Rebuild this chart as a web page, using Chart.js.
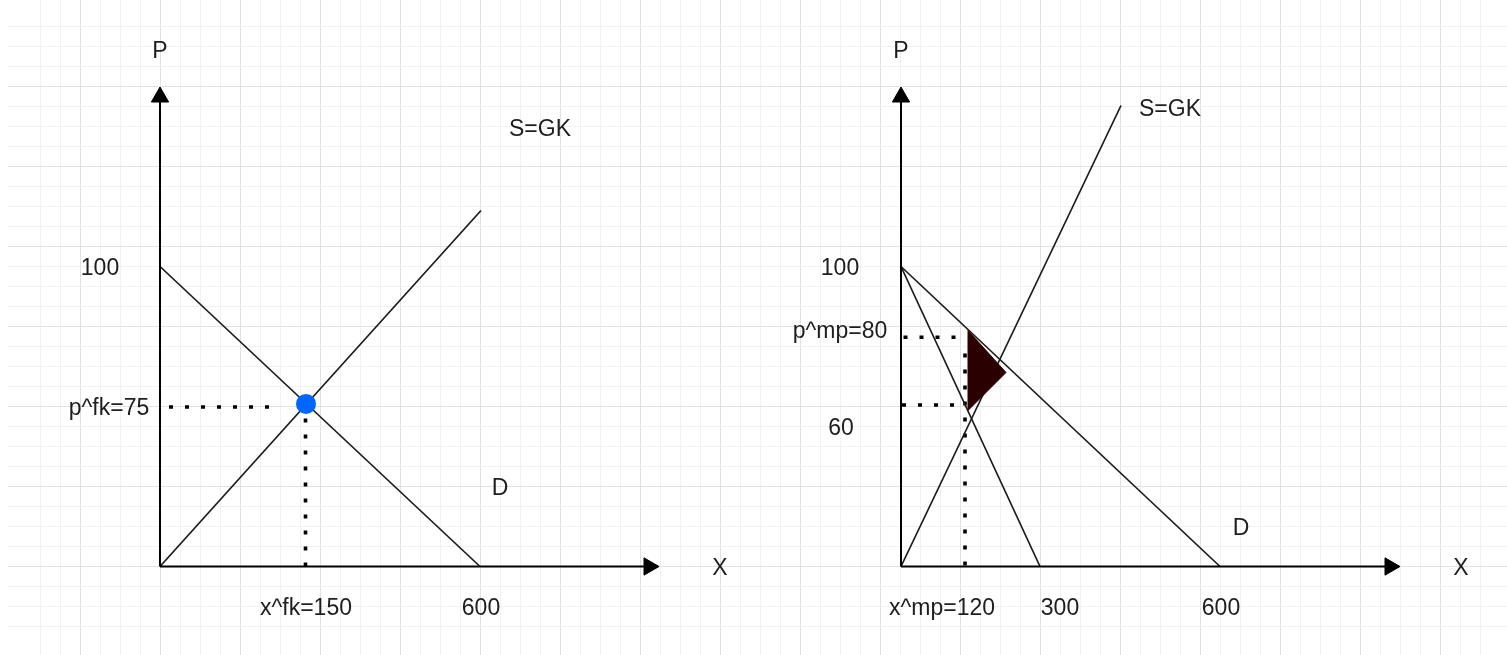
<!DOCTYPE html>
<html>
<head>
<meta charset="utf-8">
<title>Gleichgewicht und Monopol</title>
<script src="https://cdn.jsdelivr.net/npm/chart.js@4.4.1/dist/chart.umd.min.js"></script>
<style>
  html, body { margin: 0; padding: 0; background: #fff; }
  #wrap { width: 1507px; height: 655px; }
</style>
</head>
<body>
<div id="wrap"><canvas id="sketch" width="1507" height="655"></canvas></div>
<script>
// DATA - sketch units, 1 = one grid cell, origin where a panel's axes meet
// (the drawing is a sketch, the economic numbers only live in the labels)

// left panel: free competition
const demandLeft = [[0, 15], [16, 0]];
const supplyLeft = [[0, 0], [16.05, 17.8]];
const equilibrium = [7.3, 8.13];
const guideLeftH = [[0.45, 7.975], [5.6, 7.975]];
const guideLeftV = [[7.275, 7.4], [7.275, 0]];

// right panel: monopoly
const demandRight = [[0, 15], [15.95, 0]];
const revenueRight = [[0, 15], [6.95, 0]];
const supplyRight = [[0, 0], [11, 23.05]];
const lossTriangle = [[3.35, 11.8], [5.25, 9.7], [3.35, 7.8], [3.35, 11.8]];
const guideRightTop = [[0.125, 11.46], [2.85, 11.46]];
const guideRightLow = [[0.05, 8.075], [2.8, 8.075]];
const guideRightV = [[3.2, 10.65], [3.2, 0]];

// axes (both panels the same size)
const axisEnd = [24.45, 23.475];

// labels: text, x, y
const leftLabels = [
  ['P', 0, 25.825], ['S=GK', 19, 21.925], ['100', -3, 14.975],
  ['p^fk=75', -2.55, 7.975], ['x^fk=150', 7.3, -2.025], ['600', 16.05, -2.025],
  ['D', 17, 3.975], ['X', 28, 0]
];
const rightLabels = [
  ['P', 0, 25.825], ['S=GK', 13.45, 22.925], ['100', -3.05, 14.975],
  ['p^mp=80', -3.05, 11.825], ['60', -3, 6.975], ['x^mp=120', 2.05, -2.025],
  ['300', 7.95, -2.025], ['600', 16, -2.025], ['D', 17, 1.975], ['X', 28, 0]
];

// HELPERS
const pts = arr => arr.map(([x, y]) => ({ x, y }));

function line(data, axis, extra) {
  return Object.assign({
    data: pts(data), xAxisID: axis, yAxisID: 'y', showLine: true,
    pointRadius: 0, borderColor: '#1a1a1a', borderWidth: 1.7, fill: false
  }, extra || {});
}

function dotted(data, axis) {
  return line(data, axis, { borderColor: '#000', borderWidth: 3.6, borderDash: [4, 12] });
}

function axes(axis) {
  return [
    line([[0, 0], [0, axisEnd[1]]], axis, { borderColor: '#000', borderWidth: 2 }),
    line([[0, 0], [axisEnd[0], 0]], axis, { borderColor: '#000', borderWidth: 2 })
  ];
}

function arrows(axis) {
  return [
    { data: pts([[0, axisEnd[1]]]), xAxisID: axis, yAxisID: 'y', pointStyle: 'triangle',
      pointRadius: 10, pointRotation: 0, backgroundColor: '#000', borderColor: '#000', borderWidth: 1 },
    { data: pts([[axisEnd[0], 0]]), xAxisID: axis, yAxisID: 'y', pointStyle: 'triangle',
      pointRadius: 10, pointRotation: 90, backgroundColor: '#000', borderColor: '#000', borderWidth: 1 }
  ];
}

// GRID like the drawing paper
const gridColor = c => {
  const v = c.tick && c.tick.value;
  if (!Number.isInteger(v)) return 'rgba(0,0,0,0)';
  return v % 4 === 0 ? '#e1e1e1' : '#f1f1f1';
};

// LABELS
const labelPlugin = {
  id: 'sketchLabels',
  afterDatasetsDraw(chart) {
    const ctx = chart.ctx;
    const ys = chart.scales.y;
    ctx.save();
    ctx.font = '23px "Liberation Sans", Arial, sans-serif';
    ctx.fillStyle = '#1e1e1e';
    ctx.textAlign = 'center';
    ctx.textBaseline = 'middle';
    [['xa', leftLabels], ['xb', rightLabels]].forEach(([id, list]) => {
      const xs = chart.scales[id];
      list.forEach(([t, x, y]) => ctx.fillText(t, xs.getPixelForValue(x), ys.getPixelForValue(y) + 2));
    });
    ctx.restore();
  }
};

const datasets = [
  { data: pts([equilibrium]), xAxisID: 'xa', yAxisID: 'y', pointRadius: 10,
    backgroundColor: '#0066ff', borderColor: '#0066ff', borderWidth: 0 },
  ...arrows('xa'), ...arrows('xb'),
  line(lossTriangle, 'xb', { borderColor: '#2b0000', backgroundColor: '#2b0000', borderWidth: 1, fill: 'shape' }),
  ...axes('xa'), ...axes('xb'),
  line(demandLeft, 'xa'), line(supplyLeft, 'xa'),
  line(demandRight, 'xb'), line(revenueRight, 'xb'), line(supplyRight, 'xb'),
  dotted(guideLeftH, 'xa'), dotted(guideLeftV, 'xa'),
  dotted(guideRightTop, 'xb'), dotted(guideRightLow, 'xb'), dotted(guideRightV, 'xb')
];

new Chart(document.getElementById('sketch'), {
  type: 'scatter',
  data: { datasets },
  options: {
    responsive: false,
    animation: false,
    events: [],
    layout: { autoPadding: false, padding: { left: 8, right: 0, top: 0, bottom: 0 } },
    plugins: { legend: { display: false }, tooltip: { enabled: false } },
    scales: {
      x: { type: 'linear', min: 0.4, max: 75.35, ticks: { display: false, stepSize: 1 },
           grid: { color: gridColor, drawTicks: false }, border: { display: false } },
      y: { type: 'linear', min: -4.425, max: 28.325, ticks: { display: false, stepSize: 1 },
           grid: { color: gridColor, drawTicks: false }, border: { display: false } },
      xa: { type: 'linear', display: false, min: -7.6, max: 67.35 },
      xb: { type: 'linear', display: false, min: -44.65, max: 30.3 }
    }
  },
  plugins: [labelPlugin]
});
</script>
</body>
</html>
